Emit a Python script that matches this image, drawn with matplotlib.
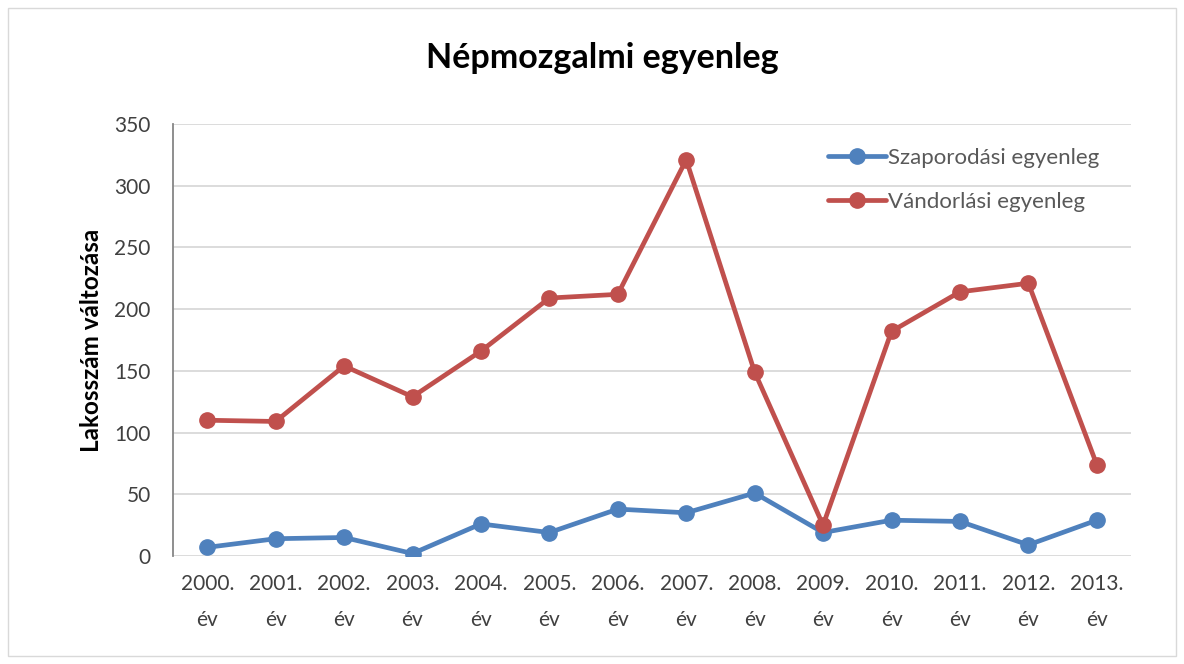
import matplotlib
matplotlib.use("Agg")
import matplotlib.pyplot as plt
from matplotlib.patches import Rectangle

years = ["2000.", "2001.", "2002.", "2003.", "2004.", "2005.", "2006.",
         "2007.", "2008.", "2009.", "2010.", "2011.", "2012.", "2013."]
tick_labels = [y + "\név" for y in years]
szaporodasi = [7, 14, 15, 2, 26, 19, 38, 35, 51, 19, 29, 28, 9, 29]
vandorlasi = [110, 109, 154, 129, 166, 209, 212, 321, 149, 25, 182, 214, 221, 74]
series_names = ["Szaporodási egyenleg", "Vándorlási egyenleg"]

plt.rcParams['font.family'] = ['Lato', 'DejaVu Sans']

fig = plt.figure(figsize=(11.84, 6.64), dpi=100)
W, H = 1184, 664
fig.patches.append(Rectangle((8 / W, 8 / H), 1168 / W, 648 / H, transform=fig.transFigure,
                             fill=False, edgecolor="#D9D9D9", linewidth=1))

ax = fig.add_axes([173 / W, 1 - 556 / H, (1131 - 173) / W, (556 - 124) / H])
x = list(range(len(years)))
ax.plot(x, szaporodasi, color="#4F81BD", lw=3.4, marker="o", ms=11, label=series_names[0],
        solid_capstyle="round", zorder=3)
ax.plot(x, vandorlasi, color="#C0504D", lw=3.4, marker="o", ms=11, label=series_names[1],
        solid_capstyle="round", zorder=3)

ax.set_xlim(-0.5, len(years) - 0.5)
ax.set_ylim(0, 350)
ax.set_yticks(range(0, 351, 50))
ax.set_xticks(x)
ax.set_xticklabels(tick_labels, fontsize=15, color="#404040", linespacing=2.0)
ax.tick_params(axis="x", length=0, pad=13)
ax.tick_params(axis="y", labelsize=15, labelcolor="#404040", length=0, pad=16)
ax.grid(axis="y", color="#D9D9D9", lw=1.3)
ax.set_axisbelow(True)
for s in ["top", "right", "bottom"]:
    ax.spines[s].set_visible(False)
ax.spines["left"].set_color("#868686")
ax.spines["left"].set_linewidth(1.3)

ax.set_ylabel("Lakosszám változása", fontsize=17.5, fontweight="bold", labelpad=8)
fig.text(602 / W, 1 - 58 / H, "Népmozgalmi egyenleg", ha="center", va="center",
         fontsize=24.5, fontweight="bold")

leg = ax.legend(loc="upper left", bbox_to_anchor=(828 / W, 1 - 148 / H),
                bbox_transform=fig.transFigure, frameon=False, fontsize=16,
                handlelength=2.6, labelspacing=1.07, handletextpad=0.1,
                borderpad=0, borderaxespad=0)
for t in leg.get_texts():
    t.set_color("#595959")

fig.savefig("out.png", dpi=100)
